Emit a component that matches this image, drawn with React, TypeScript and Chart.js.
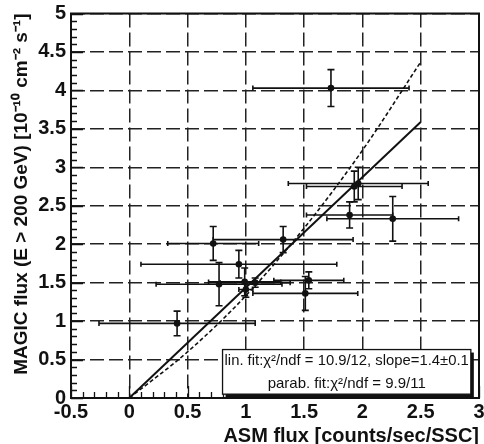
import React, { useEffect, useRef } from 'react';
import { Chart, registerables } from 'chart.js';

Chart.register(...registerables);

// Data points
const ptX = [1.73, 1.964, 1.93, 1.89, 2.26, 1.32, 0.72, 0.94, 0.77, 0.99, 1.0, 1.08, 1.54, 1.51, 0.41];
const ptY = [4.03, 2.79, 2.75, 2.38, 2.33, 2.06, 2.01, 1.74, 1.48, 1.51, 1.41, 1.50, 1.53, 1.36, 0.97];
const ptXErr = [0.67, 0.6, 0.41, 0.37, 0.565, 0.6, 0.39, 0.84, 0.54, 0.31, 0.06, 0.3, 0.3, 0.45, 0.67];
const ptYErr = [0.24, 0.21, 0.2, 0.17, 0.29, 0.17, 0.22, 0.18, 0.28, 0.18, 0.1, 0.06, 0.11, 0.22, 0.16];

// Fit curves
const linFitX = [0, 2.5];
const linFitY = [0, 3.59];
const parFitX = [0, 0.5, 1.0, 1.5, 2.0, 2.5];
const parFitY = [0, 0.6, 1.33, 2.21, 3.22, 4.37];

// Axes
const xMin = -0.5;
const xMax = 3;
const yMin = 0;
const yMax = 5;
const majorStep = 0.5;
const minorStep = 0.1;

const xTitle = 'ASM flux [counts/sec/SSC]';
const yTitle = 'MAGIC flux (E > 200 GeV) [10⁻¹⁰ cm⁻² s⁻¹]';
const legendLines = ['lin. fit:χ²/ndf = 10.9/12, slope=1.4±0.1', 'parab. fit:χ²/ndf = 9.9/11'];
// legend box corners in data units
const legendBox = { x0: 0.8, x1: 2.93, y0: 0.05, y1: 0.63 };

const FONT = "'Liberation Sans', Arial, Helvetica, sans-serif";

const decorPlugin = {
  id: 'rootDecor',
  beforeDatasetsDraw(chart: any) {
    const { ctx, scales } = chart;
    const xs = scales.x;
    const ys = scales.y;
    const area = chart.chartArea;
    ctx.save();
    ctx.beginPath();
    ctx.rect(area.left, area.top, area.right - area.left, area.bottom - area.top);
    ctx.clip();
    ctx.strokeStyle = '#111';
    ctx.lineWidth = 1.6;
    for (let i = 0; i < ptX.length; i++) {
      const cx = xs.getPixelForValue(ptX[i]);
      const cy = ys.getPixelForValue(ptY[i]);
      const xl = xs.getPixelForValue(ptX[i] - ptXErr[i]);
      const xr = xs.getPixelForValue(ptX[i] + ptXErr[i]);
      const yt = ys.getPixelForValue(ptY[i] + ptYErr[i]);
      const yb = ys.getPixelForValue(ptY[i] - ptYErr[i]);
      ctx.beginPath();
      ctx.moveTo(xl, cy);
      ctx.lineTo(xr, cy);
      ctx.moveTo(xl, cy - 2.5);
      ctx.lineTo(xl, cy + 2.5);
      ctx.moveTo(xr, cy - 2.5);
      ctx.lineTo(xr, cy + 2.5);
      ctx.moveTo(cx, yt);
      ctx.lineTo(cx, yb);
      ctx.moveTo(cx - 3.5, yt);
      ctx.lineTo(cx + 3.5, yt);
      ctx.moveTo(cx - 3.5, yb);
      ctx.lineTo(cx + 3.5, yb);
      ctx.stroke();
    }
    ctx.restore();
  },
  afterDatasetsDraw(chart: any) {
    const { ctx, scales } = chart;
    const xs = scales.x;
    const ys = scales.y;
    const area = chart.chartArea;
    ctx.save();
    ctx.strokeStyle = '#111';
    ctx.lineWidth = 1.3;
    // ticks along bottom (inside)
    const nx = Math.round((xMax - xMin) / minorStep);
    ctx.beginPath();
    for (let i = 0; i <= nx; i++) {
      const v = xMin + i * minorStep;
      const px = Math.round(xs.getPixelForValue(v)) + 0.5;
      const len = i % 5 === 0 ? 12 : 6;
      ctx.moveTo(px, area.bottom);
      ctx.lineTo(px, area.bottom - len);
    }
    const ny = Math.round((yMax - yMin) / minorStep);
    for (let i = 0; i <= ny; i++) {
      const v = yMin + i * minorStep;
      const py = Math.round(ys.getPixelForValue(v)) + 0.5;
      const len = i % 5 === 0 ? 12 : 6;
      ctx.moveTo(area.left, py);
      ctx.lineTo(area.left + len, py);
    }
    ctx.stroke();
    // frame
    ctx.lineWidth = 2;
    ctx.strokeRect(area.left, area.top, area.right - area.left, area.bottom - area.top);
    ctx.restore();
  },
  afterDraw(chart: any) {
    const { ctx, scales } = chart;
    const xs = scales.x;
    const ys = scales.y;
    const l = xs.getPixelForValue(legendBox.x0);
    const r = xs.getPixelForValue(legendBox.x1);
    const t = ys.getPixelForValue(legendBox.y1);
    const b = ys.getPixelForValue(legendBox.y0);
    ctx.save();
    // shadow
    ctx.fillStyle = '#111';
    ctx.fillRect(l + 3, t + 3, r - l, b - t);
    ctx.fillStyle = '#fff';
    ctx.fillRect(l, t, r - l, b - t);
    ctx.strokeStyle = '#111';
    ctx.lineWidth = 1.3;
    ctx.strokeRect(l, t, r - l, b - t);
    ctx.fillStyle = '#111';
    ctx.font = `15px ${FONT}`;
    ctx.textAlign = 'center';
    ctx.textBaseline = 'middle';
    const cx = (l + r) / 2;
    const h = b - t;
    ctx.fillText(legendLines[0], cx, t + h * 0.25, r - l - 4);
    ctx.fillText(legendLines[1], cx, t + h * 0.77, r - l - 4);
    ctx.restore();
  },
};

export default function App() {
  const ref = useRef<HTMLCanvasElement | null>(null);
  useEffect(() => {
    if (!ref.current) return;
    const tickFont = { family: FONT, size: 20, weight: 'bold' as const };
    const chart = new Chart(ref.current, {
      type: 'scatter',
      data: {
        datasets: [
          {
            label: 'data',
            data: ptX.map((x, i) => ({ x, y: ptY[i] })),
            pointRadius: 3.3,
            pointBackgroundColor: '#111',
            pointBorderColor: '#111',
            pointBorderWidth: 0,
            showLine: false,
            order: 0,
          },
          {
            label: 'lin. fit',
            data: linFitX.map((x, i) => ({ x, y: linFitY[i] })),
            showLine: true,
            pointRadius: 0,
            borderColor: '#111',
            borderWidth: 2,
            order: 1,
          },
          {
            label: 'parab. fit',
            data: parFitX.map((x, i) => ({ x, y: parFitY[i] })),
            showLine: true,
            pointRadius: 0,
            borderColor: '#111',
            borderWidth: 1.6,
            borderDash: [4, 2.5],
            cubicInterpolationMode: 'monotone',
            order: 2,
          },
        ],
      },
      options: {
        animation: false,
        responsive: false,
        devicePixelRatio: 1,
        layout: { padding: { top: 13.5, right: 5, left: 0, bottom: 0 } },
        plugins: { legend: { display: false }, tooltip: { enabled: false } },
        scales: {
          x: {
            type: 'linear',
            min: xMin,
            max: xMax,
            ticks: {
              stepSize: majorStep,
              autoSkip: false,
              maxRotation: 0,
              padding: 2,
              color: '#111',
              font: tickFont,
              callback: (v: any) => String(Math.round(Number(v) * 10) / 10),
            },
            grid: { color: '#222', lineWidth: 1.5, drawTicks: false },
            border: { display: false, dash: [14, 5] },
            title: {
              display: true,
              text: xTitle,
              align: 'end',
              color: '#111',
              font: { family: FONT, size: 20, weight: 'bold' },
              padding: { top: 0, bottom: -4 },
            },
            afterFit: (s: any) => {
              s.height = 46;
              s.paddingLeft = 0;
              s.paddingRight = 0;
            },
          },
          y: {
            type: 'linear',
            min: yMin,
            max: yMax,
            ticks: {
              stepSize: majorStep,
              autoSkip: false,
              padding: 5,
              color: '#111',
              font: tickFont,
              callback: (v: any) => String(Math.round(Number(v) * 10) / 10),
            },
            grid: { color: '#222', lineWidth: 1.5, drawTicks: false },
            border: { display: false, dash: [14, 5] },
            title: {
              display: true,
              text: yTitle,
              align: 'end',
              color: '#111',
              font: { family: FONT, size: 19, weight: 'bold' },
              padding: { top: 10, bottom: 0 },
            },
            afterFit: (s: any) => {
              s.width = 71;
              s.paddingTop = 0;
              s.paddingBottom = 0;
            },
          },
        },
      },
      plugins: [decorPlugin],
    } as any);
    return () => chart.destroy();
  }, []);
  return (
    <div style={{ position: 'fixed', left: 0, top: 0, width: 484, height: 444, background: '#fff' }}>
      <canvas ref={ref} width={484} height={444} />
    </div>
  );
}
